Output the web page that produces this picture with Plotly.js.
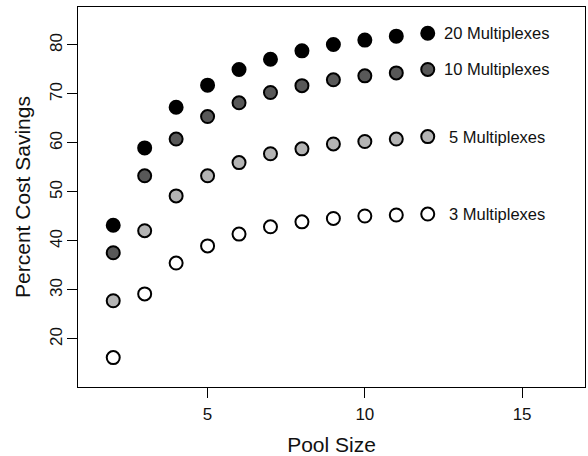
<!DOCTYPE html>
<html>
<head>
<meta charset="utf-8">
<script src="https://cdn.plot.ly/plotly-3.0.1.min.js"></script>
<style>html,body{margin:0;padding:0;background:#fff;}#chart{width:588px;height:456px;}</style>
</head>
<body>
<div id="chart"></div>
<script>
const poolSize = [2, 3, 4, 5, 6, 7, 8, 9, 10, 11, 12];
const savings20 = [43.2, 59.0, 67.3, 71.8, 75.0, 77.1, 78.8, 80.1, 81.0, 81.8, 82.4];
const savings10 = [37.6, 53.3, 60.8, 65.4, 68.2, 70.3, 71.7, 72.9, 73.7, 74.3, 75.0];
const savings5  = [27.8, 42.1, 49.2, 53.3, 56.0, 57.8, 58.8, 59.8, 60.3, 60.8, 61.3];
const savings3  = [16.2, 29.2, 35.5, 39.0, 41.4, 42.9, 43.9, 44.6, 45.1, 45.3, 45.5];
const seriesNames = ["20 Multiplexes", "10 Multiplexes", "5 Multiplexes", "3 Multiplexes"];
const seriesFill = ["#000000", "#585858", "#b4b4b4", "#ffffff"];
const xTicks = [5, 10, 15];
const yTicks = [20, 30, 40, 50, 60, 70, 80];

const FONT = "Liberation Sans, Arial, Helvetica, sans-serif";
const allSeries = [savings20, savings10, savings5, savings3];

const traces = allSeries.map((ys, i) => ({
  type: "scatter",
  mode: "markers",
  x: poolSize,
  y: ys,
  name: seriesNames[i],
  marker: {size: 13, color: seriesFill[i], line: {color: "#000", width: 2}},
  hoverinfo: "none"
}));

const annotations = allSeries.map((ys, i) => ({
  xref: "x", yref: "y",
  x: 14.2, y: ys[ys.length - 1],
  text: seriesNames[i],
  showarrow: false,
  xanchor: "center", yanchor: "middle",
  font: {family: FONT, size: 16.5, color: "#111"}
}));

const layout = {
  width: 588, height: 456,
  margin: {l: 78, r: 3, t: 7, b: 69},
  paper_bgcolor: "#fff", plot_bgcolor: "#fff",
  showlegend: false,
  font: {family: FONT, color: "#111"},
  xaxis: {
    range: [0.88, 17.0],
    tickvals: xTicks, ticktext: xTicks.map(String),
    ticks: "outside", ticklen: 10, tickwidth: 1, tickcolor: "#000",
    ticklabelstandoff: 2,
    showline: true, linecolor: "#000", linewidth: 1, mirror: true,
    showgrid: false, zeroline: false,
    tickfont: {family: FONT, size: 17, color: "#111"},
    title: {text: "Pool Size", font: {family: FONT, size: 21, color: "#111"}, standoff: 15},
    automargin: false
  },
  yaxis: {
    range: [10.2, 87.75],
    tickvals: yTicks, ticktext: yTicks.map(String),
    ticks: "outside", ticklen: 10, tickwidth: 1, tickcolor: "#000",
    tickangle: -90,
    ticklabelstandoff: -2,
    showline: true, linecolor: "#000", linewidth: 1, mirror: true,
    showgrid: false, zeroline: false,
    tickfont: {family: FONT, size: 17, color: "#111"},
    title: {text: "Percent Cost Savings", font: {family: FONT, size: 21, color: "#111"}, standoff: 10},
    automargin: false
  },
  annotations: annotations
};

Plotly.newPlot("chart", traces, layout, {displayModeBar: false, staticPlot: true});
</script>
</body>
</html>
